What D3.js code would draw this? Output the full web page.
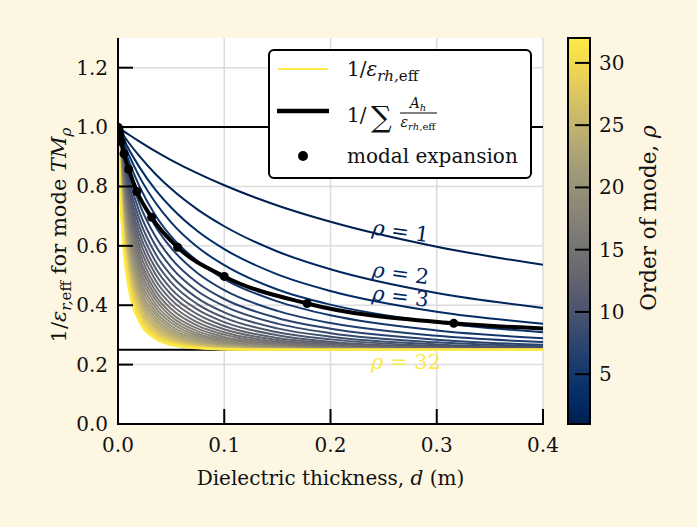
<!DOCTYPE html>
<html><head><meta charset="utf-8">
<script src="https://cdn.jsdelivr.net/npm/d3@7"></script>
<style>
body{margin:0;background:#fdf6e3;}
svg text{font-family:'DejaVu Serif',serif;fill:#111;}
</style>
</head><body>
<svg id="chart" width="697" height="527"></svg>
<script>
// thickness samples shared by every mode curve (m)
const thickness = [0, 0.002, 0.005, 0.01, 0.02, 0.035, 0.05, 0.075, 0.1, 0.15, 0.2, 0.3, 0.4];
// 1/eps_eff for modes rho = 1..32 at the thickness samples above
const modeCurves = [
  [1, 0.995, 0.987, 0.975, 0.952, 0.919, 0.889, 0.844, 0.804, 0.736, 0.681, 0.597, 0.536],
  [1, 0.989, 0.973, 0.948, 0.903, 0.843, 0.792, 0.722, 0.666, 0.581, 0.521, 0.441, 0.391],
  [1, 0.984, 0.962, 0.927, 0.866, 0.790, 0.729, 0.649, 0.589, 0.504, 0.448, 0.378, 0.338],
  [1, 0.980, 0.952, 0.908, 0.834, 0.747, 0.679, 0.595, 0.535, 0.453, 0.402, 0.342, 0.309],
  [1, 0.975, 0.940, 0.888, 0.802, 0.704, 0.632, 0.548, 0.488, 0.413, 0.366, 0.315, 0.289],
  [1, 0.970, 0.928, 0.868, 0.771, 0.667, 0.593, 0.508, 0.451, 0.381, 0.340, 0.297, 0.276],
  [1, 0.965, 0.917, 0.849, 0.743, 0.633, 0.558, 0.475, 0.421, 0.357, 0.321, 0.284, 0.267],
  [1, 0.960, 0.905, 0.830, 0.716, 0.603, 0.528, 0.447, 0.397, 0.338, 0.306, 0.275, 0.262],
  [1, 0.954, 0.894, 0.811, 0.691, 0.575, 0.501, 0.423, 0.376, 0.322, 0.294, 0.268, 0.258],
  [1, 0.949, 0.882, 0.793, 0.667, 0.550, 0.477, 0.403, 0.358, 0.309, 0.285, 0.263, 0.255],
  [1, 0.943, 0.871, 0.775, 0.644, 0.527, 0.455, 0.385, 0.343, 0.299, 0.277, 0.259, 0.253],
  [1, 0.937, 0.859, 0.758, 0.623, 0.506, 0.436, 0.369, 0.330, 0.290, 0.272, 0.257, 0.252],
  [1, 0.931, 0.847, 0.740, 0.602, 0.486, 0.419, 0.355, 0.319, 0.283, 0.267, 0.255, 0.251],
  [1, 0.925, 0.835, 0.723, 0.582, 0.467, 0.403, 0.342, 0.309, 0.277, 0.263, 0.253, 0.251],
  [1, 0.919, 0.822, 0.706, 0.563, 0.450, 0.388, 0.331, 0.301, 0.272, 0.260, 0.252, 0.251],
  [1, 0.912, 0.810, 0.689, 0.546, 0.434, 0.374, 0.321, 0.293, 0.268, 0.258, 0.252, 0.250],
  [1, 0.905, 0.797, 0.673, 0.528, 0.420, 0.362, 0.312, 0.287, 0.264, 0.256, 0.251, 0.250],
  [1, 0.899, 0.785, 0.656, 0.512, 0.406, 0.351, 0.304, 0.281, 0.261, 0.254, 0.251, 0.250],
  [1, 0.891, 0.772, 0.640, 0.495, 0.393, 0.341, 0.297, 0.276, 0.259, 0.253, 0.250, 0.250],
  [1, 0.884, 0.759, 0.624, 0.480, 0.380, 0.331, 0.291, 0.272, 0.257, 0.252, 0.250, 0.250],
  [1, 0.876, 0.746, 0.609, 0.465, 0.369, 0.322, 0.285, 0.268, 0.255, 0.252, 0.250, 0.250],
  [1, 0.868, 0.732, 0.593, 0.452, 0.358, 0.314, 0.280, 0.265, 0.254, 0.251, 0.250, 0.250],
  [1, 0.860, 0.719, 0.578, 0.438, 0.349, 0.307, 0.276, 0.262, 0.253, 0.251, 0.250, 0.250],
  [1, 0.852, 0.706, 0.563, 0.425, 0.340, 0.301, 0.272, 0.260, 0.252, 0.251, 0.250, 0.250],
  [1, 0.843, 0.692, 0.549, 0.414, 0.331, 0.294, 0.268, 0.258, 0.252, 0.250, 0.250, 0.250],
  [1, 0.834, 0.679, 0.535, 0.402, 0.323, 0.289, 0.265, 0.256, 0.251, 0.250, 0.250, 0.250],
  [1, 0.825, 0.666, 0.521, 0.391, 0.316, 0.284, 0.263, 0.255, 0.251, 0.250, 0.250, 0.250],
  [1, 0.816, 0.652, 0.508, 0.381, 0.309, 0.280, 0.260, 0.254, 0.251, 0.250, 0.250, 0.250],
  [1, 0.806, 0.639, 0.495, 0.371, 0.303, 0.276, 0.259, 0.253, 0.250, 0.250, 0.250, 0.250],
  [1, 0.797, 0.626, 0.482, 0.362, 0.297, 0.272, 0.257, 0.252, 0.250, 0.250, 0.250, 0.250],
  [1, 0.787, 0.613, 0.470, 0.353, 0.292, 0.269, 0.256, 0.252, 0.250, 0.250, 0.250, 0.250],
  [1, 0.777, 0.600, 0.457, 0.345, 0.287, 0.266, 0.255, 0.251, 0.250, 0.250, 0.250, 0.250]
];
const modeOrders = modeCurves.map((c, i) => i + 1);
// weighted sum curve and modal-expansion points
const sumThickness = [0, 0.001, 0.00178, 0.00316, 0.00562, 0.01, 0.0178, 0.0316, 0.0562, 0.1, 0.178, 0.316, 0.4];
const sumValues    = [1, 0.990, 0.975, 0.950, 0.910, 0.858, 0.783, 0.696, 0.595, 0.497, 0.406, 0.339, 0.322];
const expansionThickness = [0.0001, 0.000178, 0.000316, 0.000562, 0.001, 0.00178, 0.00316, 0.00562, 0.01, 0.0178, 0.0316, 0.0562, 0.1, 0.178, 0.316];
const expansionValues    = [0.999, 0.998, 0.997, 0.995, 0.990, 0.975, 0.950, 0.910, 0.858, 0.783, 0.696, 0.595, 0.497, 0.406, 0.339];
const asymptotes = [1.0, 0.25];
const xTicks = [0, 0.1, 0.2, 0.3, 0.4];
const yTicks = [0, 0.2, 0.4, 0.6, 0.8, 1.0, 1.2];
const colorbarTicks = [5, 10, 15, 20, 25, 30];
const modeLabels = [
  {order: 1, text: "1", x: 0.266, y: 0.650, angle: 8},
  {order: 2, text: "2", x: 0.266, y: 0.508, angle: 8},
  {order: 3, text: "3", x: 0.266, y: 0.431, angle: 7},
  {order: 32, text: "32", x: 0.271, y: 0.209, angle: 0}
];

const svg = d3.select("#chart");
const W = 697, H = 527;
const pL = 118, pR = 543, pT = 38, pB = 424;
const FS = 20;
const x = d3.scaleLinear().domain([0, 0.4]).range([pL, pR]);
const y = d3.scaleLinear().domain([0, 1.3]).range([pB, pT]);
const cbScale = d3.scaleLinear().domain([1, 32]).range([pB, pT]);
const modeColor = o => d3.interpolateCividis((o - 1) / 31);

svg.append("rect").attr("width", W).attr("height", H).attr("fill", "#fdf6e3");
svg.append("rect").attr("x", pL).attr("y", pT).attr("width", pR - pL).attr("height", pB - pT).attr("fill", "#fff");

// grid
const grid = svg.append("g").attr("stroke", "#dcdcdc").attr("stroke-width", 1.5);
xTicks.slice(1).forEach(v => grid.append("line").attr("x1", x(v)).attr("x2", x(v)).attr("y1", pT).attr("y2", pB));
yTicks.slice(1).forEach(v => grid.append("line").attr("x1", pL).attr("x2", pR).attr("y1", y(v)).attr("y2", y(v)));

// reference levels
asymptotes.forEach(v => svg.append("line").attr("x1", pL).attr("x2", pR)
  .attr("y1", y(v)).attr("y2", y(v)).attr("stroke", "#000").attr("stroke-width", 2));

const clip = svg.append("clipPath").attr("id", "plotclip");
clip.append("rect").attr("x", pL).attr("y", pT).attr("width", pR - pL).attr("height", pB - pT);
const plot = svg.append("g").attr("clip-path", "url(#plotclip)");

const line = d3.line().x(d => x(d[0])).y(d => y(d[1])).curve(d3.curveMonotoneX);
modeOrders.forEach((o, i) => {
  plot.append("path").attr("d", line(thickness.map((d, j) => [d, modeCurves[i][j]])))
    .attr("fill", "none").attr("stroke", modeColor(o)).attr("stroke-width", 2);
});
plot.append("path").attr("d", line(sumThickness.map((d, j) => [d, sumValues[j]])))
  .attr("fill", "none").attr("stroke", "#000").attr("stroke-width", 4);
plot.selectAll("circle.exp").data(expansionThickness).join("circle").attr("class", "exp")
  .attr("cx", d => x(d)).attr("cy", (d, j) => y(expansionValues[j])).attr("r", 4.5).attr("fill", "#000");

// mode labels
modeLabels.forEach(l => {
  const t = svg.append("text").attr("transform", `translate(${x(l.x)},${y(l.y)}) rotate(${l.angle})`)
    .attr("text-anchor", "middle").attr("dy", "0.35em").style("font-size", "21px").style("fill", modeColor(l.order));
  t.append("tspan").attr("font-style", "italic").style("fill", modeColor(l.order)).text("ρ");
  t.append("tspan").style("fill", modeColor(l.order)).text(" = " + l.text);
});

// axes
svg.append("line").attr("x1", pL).attr("x2", pL).attr("y1", pT).attr("y2", pB + 1).attr("stroke", "#000").attr("stroke-width", 2);
svg.append("line").attr("x1", pL - 1).attr("x2", pR + 1).attr("y1", pB).attr("y2", pB).attr("stroke", "#000").attr("stroke-width", 2);
xTicks.forEach(v => {
  svg.append("line").attr("x1", x(v)).attr("x2", x(v)).attr("y1", pB).attr("y2", pB - 15).attr("stroke", "#000").attr("stroke-width", 2);
  svg.append("text").attr("x", x(v)).attr("y", 452).attr("text-anchor", "middle").style("font-size", FS + "px").text(v.toFixed(1));
});
yTicks.forEach(v => {
  svg.append("line").attr("x1", pL).attr("x2", pL + 15).attr("y1", y(v)).attr("y2", y(v)).attr("stroke", "#000").attr("stroke-width", 2);
  svg.append("text").attr("x", 108).attr("y", y(v) + 7).attr("text-anchor", "end").style("font-size", FS + "px").text(v.toFixed(1));
});

// axis titles
const xt = svg.append("text").attr("x", (pL + pR) / 2).attr("y", 485).attr("text-anchor", "middle").style("font-size", FS + "px");
xt.append("tspan").text("Dielectric thickness, ");
xt.append("tspan").attr("font-style", "italic").text("d");
xt.append("tspan").text("  (m)");

const yt = svg.append("text").attr("transform", `translate(66,235) rotate(-90)`).attr("text-anchor", "middle").style("font-size", "21px");
yt.append("tspan").text("1/");
yt.append("tspan").attr("font-style", "italic").text("ε");
yt.append("tspan").attr("font-style", "italic").attr("dy", 5).style("font-size", "15px").text("r,");
yt.append("tspan").style("font-size", "15px").text("eff");
yt.append("tspan").attr("dy", -5).text(" for mode ");
yt.append("tspan").attr("font-style", "italic").text("TM");
yt.append("tspan").attr("font-style", "italic").attr("dy", 5).style("font-size", "15px").text("ρ");

// legend
const lg = svg.append("g");
lg.append("rect").attr("x", 269).attr("y", 50).attr("width", 262).attr("height", 128).attr("rx", 5)
  .attr("fill", "#fff").attr("stroke", "#000").attr("stroke-width", 2);
lg.append("line").attr("x1", 278).attr("x2", 328).attr("y1", 69).attr("y2", 69).attr("stroke", modeColor(32)).attr("stroke-width", 2);
const l1 = lg.append("text").attr("x", 347).attr("y", 76).style("font-size", FS + "px");
l1.append("tspan").text("1/");
l1.append("tspan").attr("font-style", "italic").text("ε");
l1.append("tspan").attr("font-style", "italic").attr("dy", 5).style("font-size", "15px").text("rh,");
l1.append("tspan").style("font-size", "15px").text("eff");

lg.append("line").attr("x1", 277).attr("x2", 329).attr("y1", 111).attr("y2", 111).attr("stroke", "#000").attr("stroke-width", 4.5);
lg.append("text").attr("x", 347).attr("y", 122).style("font-size", FS + "px").text("1/");
lg.append("text").attr("x", 371).attr("y", 127).style("font-size", "29px").text("∑");
const num = lg.append("text").attr("x", 418).attr("y", 108).attr("text-anchor", "middle").style("font-size", "14px");
num.append("tspan").attr("font-style", "italic").text("A");
num.append("tspan").attr("font-style", "italic").attr("dy", 3).style("font-size", "10px").text("h");
lg.append("line").attr("x1", 400).attr("x2", 437).attr("y1", 113).attr("y2", 113).attr("stroke", "#000").attr("stroke-width", 1);
const den = lg.append("text").attr("x", 418).attr("y", 127).attr("text-anchor", "middle").style("font-size", "14px");
den.append("tspan").attr("font-style", "italic").text("ε");
den.append("tspan").attr("font-style", "italic").attr("dy", 3).style("font-size", "10px").text("rh,");
den.append("tspan").style("font-size", "10px").text("eff");

lg.append("circle").attr("cx", 303).attr("cy", 156).attr("r", 5).attr("fill", "#000");
lg.append("text").attr("x", 347).attr("y", 163).style("font-size", FS + "px").text("modal expansion");

// colorbar
const cbX = 568, cbW = 22;
const grad = svg.append("defs").append("linearGradient").attr("id", "cbgrad").attr("x1", 0).attr("y1", 1).attr("x2", 0).attr("y2", 0);
d3.range(0, 1.0001, 0.05).forEach(s => grad.append("stop").attr("offset", s).attr("stop-color", d3.interpolateCividis(s)));
svg.append("rect").attr("x", cbX).attr("y", pT).attr("width", cbW).attr("height", pB - pT).attr("fill", "url(#cbgrad)");
colorbarTicks.forEach(v => {
  svg.append("line").attr("x1", cbX + cbW - 15).attr("x2", cbX + cbW).attr("y1", cbScale(v)).attr("y2", cbScale(v)).attr("stroke", "#000").attr("stroke-width", 2);
  svg.append("text").attr("x", 599).attr("y", cbScale(v) + 7).style("font-size", FS + "px").text(v);
});
svg.append("rect").attr("x", cbX).attr("y", pT).attr("width", cbW).attr("height", pB - pT).attr("fill", "none").attr("stroke", "#000").attr("stroke-width", 2);
const ct = svg.append("text").attr("transform", `translate(656,218) rotate(-90)`).attr("text-anchor", "middle").style("font-size", "21.5px");
ct.append("tspan").text("Order of mode, ");
ct.append("tspan").attr("font-style", "italic").text("ρ");
</script>
</body></html>
